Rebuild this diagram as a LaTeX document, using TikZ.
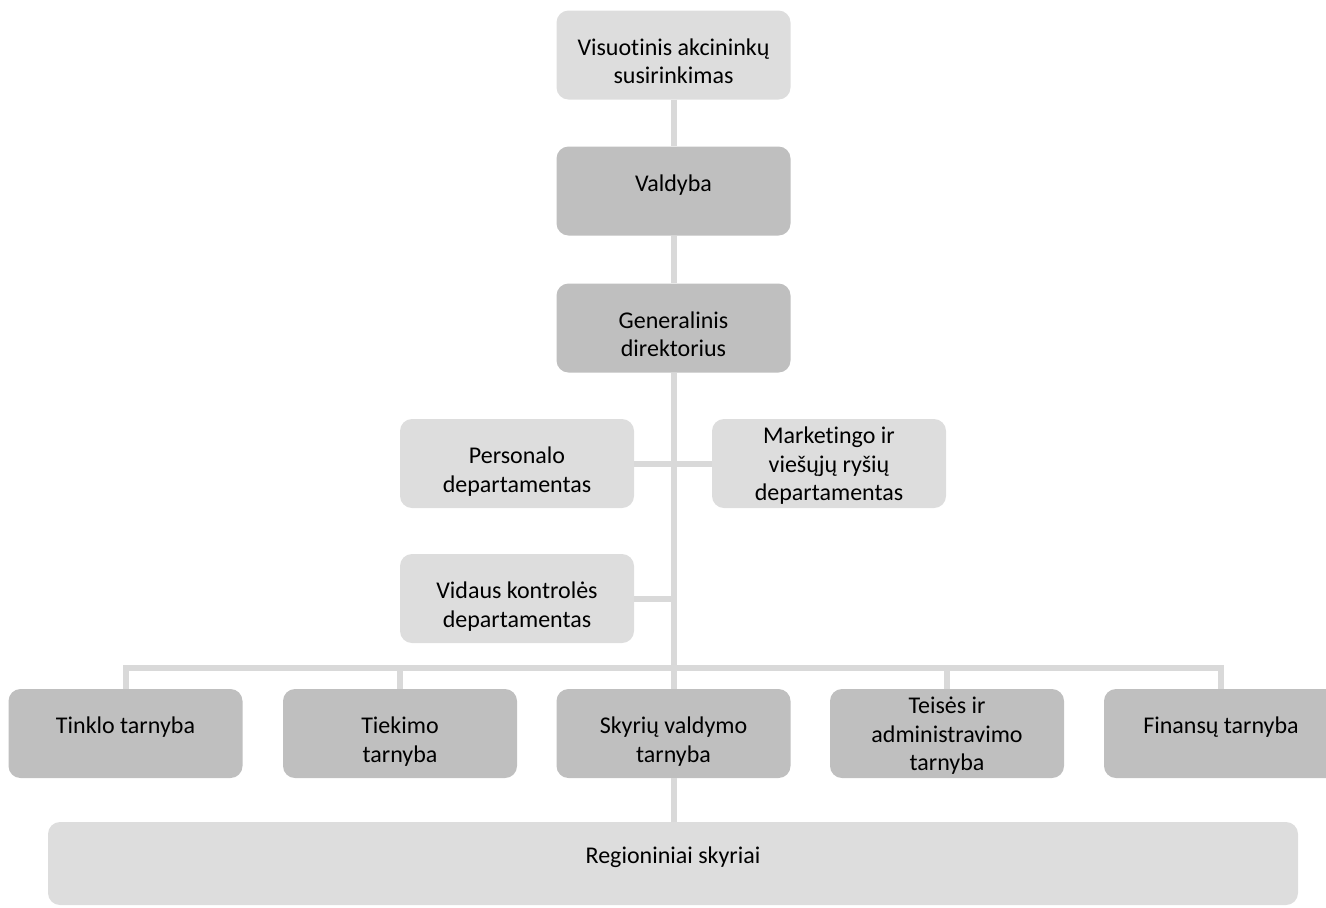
\documentclass[tikz,border=0pt]{standalone}
\usepackage{fontspec}
\setmainfont{Carlito}[Ligatures=NoCommon]
\usepackage{tikz}
\usetikzlibrary{positioning}

\definecolor{lightbox}{HTML}{DDDDDD}
\definecolor{darkbox}{HTML}{BFBFBF}
\definecolor{linkgray}{HTML}{D9D9D9}

% first line of the text sits on the middle of the box
\newcommand{\unittext}[2][0pt]{\raisebox{#1}[0pt][0pt]{\begin{tabular}[t]{@{}c@{}}#2\end{tabular}}}

\tikzset{
  unit/.style={rounded corners=6pt, minimum width=117pt, minimum height=44.5pt,
    inner sep=0pt, font=\fontsize{12}{14.3}\selectfont, text=black},
  lightunit/.style={unit, fill=lightbox},
  darkunit/.style={unit, fill=darkbox},
  link/.style={draw=linkgray, line width=3pt}
}

\begin{document}
\begin{tikzpicture}[x=0.5pt, y=-0.5pt]
\useasboundingbox (0,0) rectangle (1326,907);

% top of the chart
\node [lightunit] (vis) at (673.5,55) {\unittext{Visuotinis akcininkų\\susirinkimas}};
\node [darkunit] (val) at (673.5,191) {\unittext{Valdyba}};
\node [darkunit] (gen) at (673.5,328) {\unittext{Generalinis\\direktorius}};

% departments
\node [lightunit] (per) at (517,463.5) {\unittext{Personalo\\departamentas}};
\node [lightunit] (mar) at (829,463.5) {\unittext[10pt]{Marketingo ir\\viešųjų ryšių\\departamentas}};
\node [lightunit] (vid) at (517,598.5) {\unittext{Vidaus kontrolės\\departamentas}};

% services
\node [darkunit] (tin) at (125.5,733.5) {\unittext{Tinklo tarnyba}};
\node [darkunit] (tie) at (400,733.5) {\unittext{Tiekimo\\tarnyba}};
\node [darkunit] (sky) at (673.5,733.5) {\unittext{Skyrių valdymo\\tarnyba}};
\node [darkunit] (tei) at (947,733.5) {\unittext[10pt]{Teisės ir\\administravimo\\tarnyba}};
\node [darkunit] (fin) at (1221,733.5) {\unittext{Finansų tarnyba}};

\node [lightunit, minimum width=625pt, minimum height=41.5pt] (reg) at (673,863.5) {\unittext{Regioniniai skyriai}};

\coordinate (bus) at (673.5,668);

% links
\draw [link] (vis) -- (val);
\draw [link] (val) -- (gen);
\draw [link] (gen) -- (sky);
\draw [link] (sky) -- (reg.north -| sky.south);
\draw [link] (per.east) -- (per.east -| gen.south);
\draw [link] (mar.west) -- (mar.west -| gen.south);
\draw [link] (vid.east) -- (vid.east -| gen.south);
\draw [link] (tin.north) |- (bus) -| (fin.north);
\draw [link] (tie.north) |- (bus);
\draw [link] (tei.north) |- (bus);

\end{tikzpicture}
\end{document}
